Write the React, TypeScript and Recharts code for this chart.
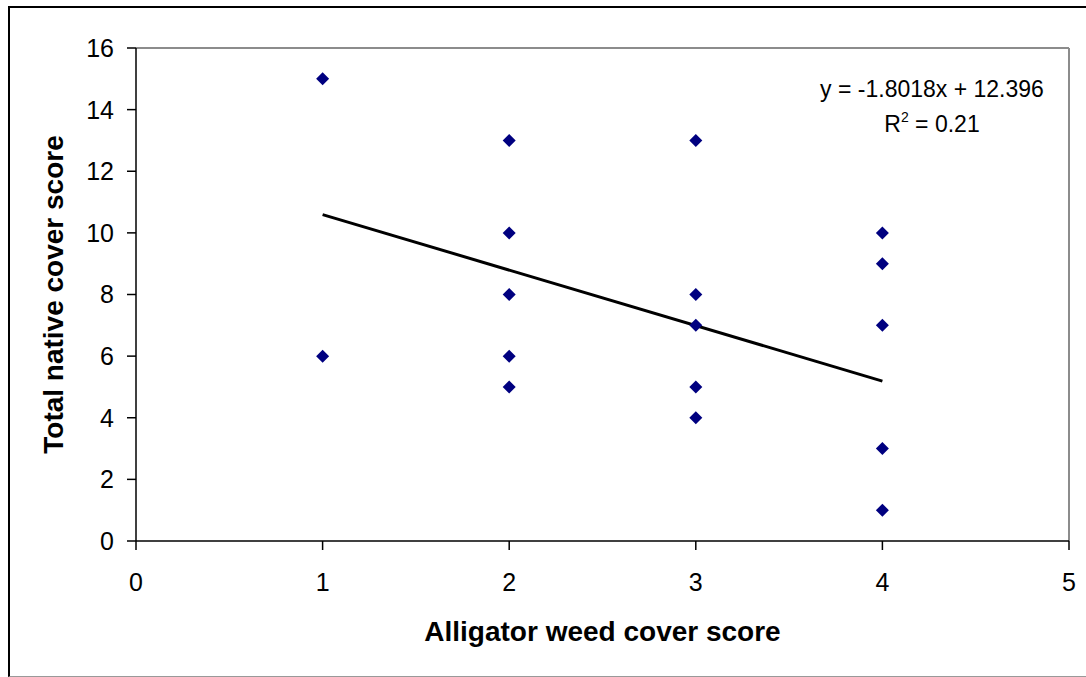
import React from 'react';
import {
  ScatterChart,
  Scatter,
  XAxis,
  YAxis,
  ReferenceLine,
  Label,
} from 'recharts';

// Alligator weed cover score (x) vs total native cover score (y)
const coverX = [1, 1, 2, 2, 2, 2, 2, 3, 3, 3, 3, 3, 4, 4, 4, 4, 4];
const nativeY = [15, 6, 13, 10, 8, 6, 5, 13, 8, 7, 5, 4, 10, 9, 7, 3, 1];

const xTicks = [0, 1, 2, 3, 4, 5];
const yTicks = [0, 2, 4, 6, 8, 10, 12, 14, 16];

// linear trendline shown on the chart
const slope = -1.8018;
const intercept = 12.396;
const rSquared = 0.21;
const trendX = [1, 4];

const points = coverX.map((x, i) => ({ x, y: nativeY[i] }));
const trendSegment = trendX.map(x => ({ x, y: slope * x + intercept }));

const FONT = '"Liberation Sans", Arial, sans-serif';

const Diamond = (props: any) => {
  const { cx, cy } = props;
  const h = 6.5;
  return (
    <polygon
      points={`${cx},${cy - h} ${cx + h},${cy} ${cx},${cy + h} ${cx - h},${cy}`}
      fill="#000080"
    />
  );
};

const XTitle = (props: any) => {
  const vb = props.viewBox;
  return (
    <text x={vb.x + vb.width / 2} y={vb.y + 100} textAnchor="middle"
      fontFamily={FONT} fontSize={28} fontWeight="bold" fill="#000">
      Alligator weed cover score
    </text>
  );
};

const YTitle = (props: any) => {
  const vb = props.viewBox;
  const cx = vb.x + vb.width - 73;
  const cy = vb.y + vb.height / 2;
  return (
    <text x={cx} y={cy} transform={`rotate(-90 ${cx} ${cy})`} textAnchor="middle"
      fontFamily={FONT} fontSize={28} fontWeight="bold" fill="#000">
      Total native cover score
    </text>
  );
};

// equation text sits under the top border of the plot, near the right end
const Equation = (props: any) => {
  const vb = props.viewBox;
  const cx = vb.x + vb.width - 137;
  const top = vb.y;
  return (
    <g fontFamily={FONT} fontSize={23} fill="#000">
      <text x={cx} y={top + 49} textAnchor="middle">
        {`y = ${slope}x + ${intercept}`}
      </text>
      <text x={cx} y={top + 84} textAnchor="middle">
        <tspan>R</tspan>
        <tspan dy={-10} fontSize={14}>2</tspan>
        <tspan dy={10}>{` = ${rSquared}`}</tspan>
      </text>
    </g>
  );
};

export default function App() {
  return (
    <div style={{ position: 'absolute', left: 0, top: 0, width: 1086, height: 677, background: '#fff', overflow: 'hidden' }}>
      <div style={{
        position: 'absolute', left: 8, top: 6, width: 1100, height: 668,
        borderLeft: '2px solid #000', borderTop: '2px solid #000', borderBottom: '1px solid #999',
      }} />
      <div style={{ position: 'absolute', left: 0, top: 0 }}>
        <ScatterChart width={1086} height={677} margin={{ top: 48, right: 17, bottom: 26, left: 76 }}>
          <ReferenceLine y={16} stroke="#8c8c8c" strokeWidth={2} ifOverflow="visible">
            <Label content={Equation} />
          </ReferenceLine>
          <ReferenceLine x={5} stroke="#8c8c8c" strokeWidth={2} ifOverflow="visible" />
          <XAxis
            type="number" dataKey="x" domain={[0, 5]} ticks={xTicks} interval={0}
            height={110} tickSize={9} tickMargin={23}
            axisLine={{ stroke: '#000', strokeWidth: 1.5 }}
            tickLine={{ stroke: '#000', strokeWidth: 1.5 }}
            tick={{ fill: '#000', fontSize: 25, fontFamily: FONT }}
          >
            <Label content={XTitle} />
          </XAxis>
          <YAxis
            type="number" dataKey="y" domain={[0, 16]} ticks={yTicks} interval={0}
            width={60} tickSize={9} tickMargin={13}
            axisLine={{ stroke: '#000', strokeWidth: 1.5 }}
            tickLine={{ stroke: '#000', strokeWidth: 1.5 }}
            tick={{ fill: '#000', fontSize: 25, fontFamily: FONT }}
          >
            <Label content={YTitle} />
          </YAxis>
          <Scatter data={points} shape={Diamond} isAnimationActive={false} />
          <ReferenceLine segment={trendSegment} stroke="#000" strokeWidth={3} ifOverflow="visible" />
        </ScatterChart>
      </div>
    </div>
  );
}
